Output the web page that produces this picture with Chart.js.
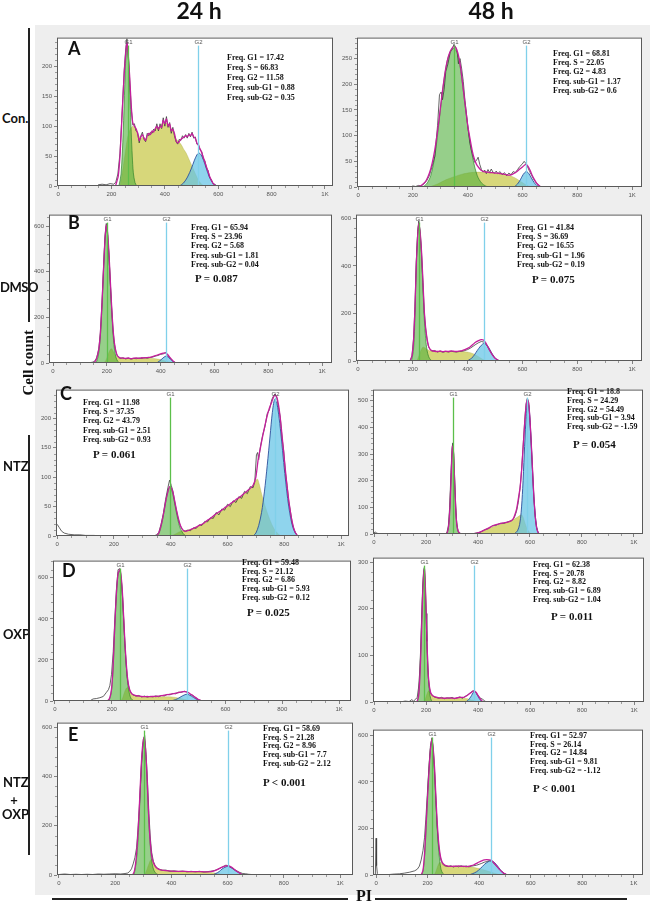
<!DOCTYPE html>
<html><head><meta charset="utf-8">
<script src="https://cdn.jsdelivr.net/npm/chart.js@4.4.1/dist/chart.umd.min.js"></script>
<style>
html,body{margin:0;padding:0;background:#fff;}
#root{position:relative;width:650px;height:904px;overflow:hidden;}
.abs{position:absolute;white-space:nowrap;}
.bg{position:absolute;left:35px;top:25px;width:615px;height:870px;background:#eeeeee;}
.pan{position:absolute;}
.frq{font-family:"Liberation Serif","Times New Roman",serif;font-weight:bold;font-size:8px;color:#111;}
.pv{font-family:"Liberation Serif","Times New Roman",serif;font-weight:bold;font-size:11px;color:#111;}
.lt{font-family:Lato,"Open Sans",sans-serif;font-weight:bold;font-size:18px;color:#111;}
.hd{font-family:Lato,"Open Sans",sans-serif;font-weight:bold;font-size:23px;color:#111;}
.rl{font-family:Lato,"Open Sans",sans-serif;font-weight:bold;font-size:13px;color:#111;}
.tm{font-family:"Liberation Serif","Times New Roman",serif;font-weight:bold;font-size:15px;color:#111;}
.ln{position:absolute;background:#222;}
</style></head><body><div id="root"><div class="bg"></div></div>
<script>
// ---------------- DATA (x = PI channel, y = cell count) ----------------
// Panel order: A24, A48, B24, B48, C24, C48, D24, D48, E24, E48
const PANEL_IDS = ['A24','A48','B24','B48','C24','C48','D24','D48','E24','E48'];
const G1_POS = [261, 350, 200, 223, 396, 303, 229, 193, 303, 217];
const G2_POS = [526, 613, 419, 459, 767, 590, 463, 385, 600, 446];
const FREQ_G1 = ['17.42','68.81','65.94','41.84','11.98','18.8','59.48','62.38','58.69','52.97'];
const FREQ_S = ['66.83','22.05','23.96','36.69','37.35','24.29','21.12','20.78','21.28','26.14'];
const FREQ_G2 = ['11.58','4.83','5.68','16.55','43.79','54.49','6.86','8.82','8.96','14.84'];
const FREQ_SUBG1 = ['0.88','1.37','1.81','1.96','2.51','3.94','5.93','6.89','7.7','9.81'];
const FREQ_SUBG2 = ['0.35','0.6','0.04','0.19','0.93','-1.59','0.12','1.04','2.12','-1.12'];
const P_TEXT = ['', '', 'P = 0.087', 'P = 0.075', 'P = 0.061', 'P = 0.054', 'P = 0.025', 'P = 0.011', 'P < 0.001', 'P < 0.001'];
const PANEL_LETTERS = ['A','','B','','C','','D','','E',''];
const ROW_LABELS = ['Con.','DMSO','NTZ','OXP','NTZ','+','OXP'];
const COL_LABELS = ['24 h','48 h'];
const X_TICK_VALUES = [0,200,400,600,800,1000];
const X_TICK_LABELS = ['0','200','400','600','800','1K'];
const Y_TICKS = [[0,50,100,150,200],[0,50,100,150,200,250],[0,200,400,600],[0,200,400,600],[0,50,100,150,200],[0,100,200,300,400,500],[0,200,400,600],[0,100,200,300],[0,200,400,600],[0,200,400,600]];

const A24_raw = [[150,2],[165,3],[180,2],[195,4],[208,3],[216,6],[224,20],[232,55],[240,125],[248,195],[254,232],[258,246],[262,228],[268,180],[274,130],[280,102],[286,104],[292,92],[298,90],[304,72],[310,84],[316,90],[322,78],[328,74],[334,88],[340,84],[346,90],[352,88],[358,95],[364,92],[370,104],[376,92],[382,104],[388,96],[394,114],[400,100],[406,116],[412,98],[418,106],[424,88],[430,98],[436,84],[442,74],[448,70],[454,78],[460,76],[466,84],[472,80],[478,86],[484,80],[490,88],[496,82],[502,90],[508,80],[514,82],[520,70],[526,70],[532,60],[538,58],[544,46],[550,42],[556,30],[562,26],[568,14],[574,11],[580,4],[586,3],[594,0]];
const A24_fit = [[215,0],[225,15],[232,50],[240,120],[248,190],[254,225],[258,240],[262,225],[268,185],[274,135],[280,105],[286,100],[292,96],[298,88],[304,76],[310,82],[316,86],[322,80],[328,76],[334,84],[340,88],[346,86],[352,92],[358,90],[364,96],[370,100],[376,95],[382,100],[388,98],[394,110],[400,104],[406,112],[412,100],[418,104],[424,92],[430,95],[436,88],[442,76],[448,72],[454,74],[460,78],[466,80],[472,82],[478,84],[484,82],[490,86],[496,84],[502,88],[508,82],[514,80],[520,72],[526,68],[532,62],[538,56],[544,48],[550,40],[556,32],[562,24],[568,16],[574,10],[580,5],[586,2],[592,0]];
const A24_g1 = [[228,0],[236,20],[244,90],[250,170],[254,215],[258,235],[262,222],[266,190],[270,140],[274,90],[278,50],[282,22],[288,6],[295,0]];
const A24_s = [[232,0],[240,20],[250,50],[260,80],[270,95],[280,100],[290,96],[300,86],[310,80],[320,82],[330,78],[340,86],[350,90],[360,92],[370,98],[380,98],[390,104],[400,106],[410,104],[420,98],[430,92],[440,80],[450,75],[460,70],[470,62],[480,55],[490,45],[500,35],[510,25],[520,15],[530,7],[540,2],[548,0]];
const A24_g2 = [[455,0],[470,5],[485,15],[500,30],[510,42],[520,52],[528,55],[536,52],[545,43],[555,30],[565,17],[575,8],[585,3],[595,0]];

const A48_raw = [[190,0],[200,2],[210,1],[220,3],[230,2],[240,6],[250,12],[260,22],[270,40],[280,60],[290,120],[297,180],[303,185],[308,170],[314,190],[320,225],[328,240],[336,262],[344,270],[350,278],[356,272],[362,262],[366,240],[372,250],[378,230],[384,205],[390,168],[396,140],[402,110],[408,85],[414,70],[420,58],[426,48],[432,52],[438,58],[444,44],[450,34],[456,29],[462,33],[468,26],[474,34],[480,28],[486,35],[492,29],[498,27],[504,31],[510,26],[518,30],[526,24],[534,28],[542,22],[550,27],[558,24],[566,30],[574,28],[582,34],[590,40],[598,44],[606,50],[612,46],[618,40],[626,30],[634,22],[642,14],[650,8],[658,4],[666,1],[675,0]];
const A48_fit = [[215,0],[230,3],[245,10],[255,20],[265,35],[275,58],[285,90],[295,130],[305,175],[315,215],[325,245],[335,263],[345,272],[352,274],[360,268],[368,252],[376,225],[384,190],[392,155],[400,120],[408,95],[416,72],[424,55],[432,44],[440,38],[450,32],[460,30],[470,29],[480,28],[490,28],[500,27],[510,27],[520,26],[530,25],[540,24],[550,23],[560,24],[570,27],[580,30],[590,35],[600,39],[608,43],[613,44],[620,40],[628,32],[636,22],[644,14],[652,7],[660,3],[668,0]];
const A48_g1 = [[235,0],[250,6],[265,22],[280,60],[295,125],[310,195],[325,245],[338,265],[350,270],[362,260],[375,225],[390,160],[405,100],[420,52],[435,22],[450,8],[465,2],[475,0]];
const A48_s = [[260,0],[290,6],[320,14],[350,20],[380,25],[410,28],[440,29],[470,28],[500,27],[530,25],[555,22],[575,17],[595,10],[610,5],[625,1],[635,0]];
const A48_g2 = [[570,0],[582,6],[592,14],[602,24],[613,30],[622,27],[632,18],[642,9],[652,3],[662,0]];

const B24_raw = [[130,0],[140,2],[148,4],[155,8],[162,22],[170,62],[176,135],[182,265],[188,425],[193,548],[198,612],[203,560],[208,470],[213,350],[218,240],[223,145],[228,85],[233,52],[238,33],[244,25],[250,20],[260,23],[270,18],[280,21],[290,17],[300,20],[310,19],[320,22],[330,20],[340,24],[350,21],[360,24],[370,26],[380,30],[390,33],[400,38],[410,40],[418,46],[425,36],[432,26],[440,15],[447,7],[454,2],[462,0]];
const B24_fit = [[145,0],[155,5],[162,20],[170,60],[176,130],[182,260],[188,420],[193,540],[198,605],[203,570],[208,480],[213,360],[218,245],[223,150],[228,90],[233,55],[238,35],[244,26],[250,22],[260,21],[270,20],[280,22],[290,19],[300,21],[310,22],[320,20],[330,23],[340,22],[350,24],[360,25],[370,28],[380,32],[390,36],[400,40],[410,43],[418,44],[425,38],[432,28],[440,17],[447,8],[454,2],[460,0]];
const B24_g1 = [[160,0],[168,30],[175,100],[182,250],[188,420],[193,550],[198,600],[203,560],[208,470],[213,350],[218,230],[223,130],[228,65],[234,25],[240,8],[248,0]];
const B24_s = [[188,0],[196,10],[204,35],[212,58],[218,62],[224,50],[230,36],[238,26],[248,21],[270,20],[300,20],[330,21],[360,21],[380,19],[395,16],[410,11],[425,6],[438,2],[448,0]];
const B24_g2 = [[385,0],[395,8],[405,18],[413,26],[420,30],[428,26],[436,17],[444,9],[452,3],[460,0]];

const B48_raw = [[0,3],[10,1],[20,0],[190,0],[197,22],[203,95],[208,230],[213,420],[218,545],[222,590],[227,545],[232,455],[237,330],[242,205],[247,135],[252,90],[257,62],[263,48],[270,42],[280,44],[290,38],[300,41],[310,37],[320,40],[330,38],[340,41],[350,39],[360,38],[370,40],[380,41],[390,44],[400,48],[410,54],[420,62],[430,70],[440,77],[450,82],[458,80],[465,74],[472,62],[480,46],[488,30],[496,17],[504,8],[512,3],[520,0]];
const B48_fit = [[190,0],[197,20],[203,90],[208,220],[213,410],[218,530],[222,578],[227,540],[232,460],[237,340],[242,210],[247,140],[252,95],[257,65],[263,50],[270,44],[280,41],[290,40],[300,42],[310,39],[320,41],[330,40],[340,42],[350,41],[360,40],[370,42],[380,44],[390,48],[400,53],[410,60],[420,70],[430,80],[440,86],[450,90],[458,88],[465,78],[472,64],[480,46],[488,30],[496,17],[504,8],[512,3],[520,0]];
const B48_g1 = [[195,0],[202,40],[207,150],[212,380],[217,520],[222,575],[227,530],[232,440],[237,310],[242,180],[247,95],[252,45],[258,18],[265,5],[272,0]];
const B48_s = [[215,0],[222,20],[230,45],[237,58],[245,55],[253,48],[262,43],[280,41],[320,40],[360,40],[390,39],[410,35],[425,28],[440,18],[452,9],[462,3],[470,0]];
const B48_g2 = [[398,0],[410,8],[420,18],[430,35],[440,52],[450,66],[459,74],[468,70],[476,58],[484,42],[492,26],[500,13],[508,5],[516,0]];

const C24_raw = [[0,20],[8,14],[16,8],[25,5],[40,3],[60,2],[80,2],[100,1],[130,1],[160,0],[340,0],[350,2],[358,6],[366,20],[374,38],[382,62],[390,82],[396,95],[402,86],[408,76],[414,58],[420,44],[426,30],[432,20],[438,13],[444,9],[452,8],[460,10],[470,9],[480,14],[490,13],[500,19],[510,18],[520,25],[530,24],[540,31],[550,30],[560,40],[570,36],[580,46],[590,44],[600,54],[610,50],[620,60],[630,57],[640,67],[650,64],[660,76],[670,72],[680,84],[690,82],[696,92],[702,138],[706,142],[710,130],[716,152],[724,172],[732,186],[740,208],[748,215],[756,232],[762,238],[768,242],[774,234],[780,218],[786,202],[792,168],[798,145],[804,108],[810,86],[816,58],[822,41],[828,22],[834,12],[840,5],[846,1],[852,0]];
const C24_fit = [[350,0],[358,5],[366,18],[374,36],[382,58],[390,75],[396,84],[402,82],[408,74],[414,60],[420,45],[426,32],[432,21],[438,14],[444,10],[452,8],[460,9],[470,11],[480,13],[490,15],[500,18],[510,20],[520,23],[530,27],[540,30],[550,34],[560,38],[570,41],[580,44],[590,48],[600,51],[610,55],[620,58],[630,62],[640,65],[650,69],[660,73],[670,77],[680,81],[690,86],[700,100],[708,130],[716,150],[724,170],[732,188],[740,205],[748,218],[756,228],[762,236],[768,240],[774,236],[780,222],[786,200],[792,172],[798,142],[804,112],[810,84],[816,60],[822,40],[828,24],[834,12],[840,5],[846,1],[852,0]];
const C24_g1 = [[352,0],[360,6],[368,20],[376,40],[384,62],[390,76],[396,83],[402,80],[408,70],[414,55],[420,40],[426,26],[432,15],[440,7],[448,2],[455,0]];
const C24_s = [[400,0],[415,3],[430,7],[445,9],[460,10],[480,13],[500,17],[520,22],[540,29],[560,36],[580,43],[600,50],[620,57],[640,64],[660,72],[680,80],[695,90],[705,97],[712,88],[720,72],[730,55],[740,40],[750,27],[760,16],[770,8],[780,3],[790,0]];
const C24_g2 = [[690,0],[700,5],[710,18],[720,40],[730,75],[740,120],[750,170],[758,210],[766,232],[774,225],[782,200],[790,165],[798,125],[806,88],[814,56],[822,32],[830,15],[838,6],[846,1],[852,0]];

const C48_raw = [[0,4],[5,8],[10,3],[20,1],[40,0],[272,0],[280,4],[286,30],[291,100],[296,230],[300,320],[303,342],[306,310],[310,205],[314,105],[318,42],[323,12],[330,3],[340,0],[380,1],[395,4],[410,7],[425,16],[440,20],[455,31],[470,33],[485,40],[500,40],[515,46],[530,50],[540,62],[548,84],[555,118],[562,172],[568,245],[574,335],[580,428],[585,488],[590,510],[595,495],[600,425],[605,335],[610,232],[615,135],[620,66],[625,26],[630,8],[636,1],[642,0]];
const C48_fit = [[275,0],[282,5],[288,40],[293,120],[298,250],[302,330],[306,300],[310,200],[314,100],[318,40],[323,12],[330,3],[340,0],[380,0],[395,3],[410,8],[425,15],[440,22],[455,30],[470,35],[485,39],[500,42],[515,45],[528,50],[536,58],[542,72],[549,95],[555,130],[562,175],[568,240],[574,330],[580,420],[585,480],[590,505],[595,490],[600,430],[605,340],[610,240],[615,140],[620,70],[625,28],[630,8],[636,0]];
const C48_g1 = [[278,0],[285,15],[290,70],[295,180],[299,280],[303,335],[307,290],[311,190],[315,95],[319,35],[324,8],[330,0]];
const C48_s = [[380,0],[400,4],[420,12],[440,20],[460,28],[480,35],[500,40],[520,46],[535,54],[550,62],[562,70],[568,72],[575,60],[582,38],[590,18],[598,6],[606,0]];
const C48_g2 = [[540,0],[552,12],[560,35],[566,80],[572,170],[578,300],[584,420],[590,498],[596,480],[602,400],[608,280],[614,160],[620,75],[626,25],[632,6],[638,0]];

const D24_raw = [[122,0],[134,10],[146,12],[158,16],[170,22],[181,42],[188,55],[193,74],[199,130],[205,240],[210,380],[216,540],[222,640],[229,645],[234,580],[238,500],[242,390],[246,280],[250,190],[254,120],[258,80],[263,52],[269,36],[275,30],[285,24],[295,27],[305,20],[315,24],[325,19],[335,23],[345,20],[355,25],[365,21],[375,27],[385,25],[395,32],[405,30],[415,37],[425,35],[435,43],[445,42],[455,48],[463,44],[470,41],[478,31],[486,27],[494,16],[502,10],[510,4],[518,1],[525,0]];
const D24_fit = [[185,0],[192,12],[199,58],[205,180],[210,356],[216,520],[222,623],[229,640],[234,590],[238,513],[242,400],[246,290],[250,200],[254,130],[258,85],[263,55],[269,38],[275,31],[285,26],[295,24],[305,22],[315,21],[325,22],[335,21],[345,23],[355,22],[365,24],[375,26],[385,28],[395,31],[405,33],[415,35],[425,38],[435,41],[445,44],[455,46],[463,45],[470,40],[478,33],[486,26],[494,18],[502,10],[510,4],[518,0]];
const D24_g1 = [[188,0],[195,20],[201,80],[206,200],[211,370],[216,510],[222,615],[229,635],[234,585],[238,505],[242,395],[246,285],[250,190],[254,115],[258,65],[263,30],[268,12],[274,4],[280,0]];
const D24_s = [[232,0],[238,15],[244,40],[250,60],[255,66],[260,55],[266,40],[274,30],[285,25],[300,22],[330,21],[360,21],[390,21],[410,20],[425,17],[440,13],[455,8],[468,4],[480,1],[488,0]];
const D24_g2 = [[405,0],[418,4],[430,10],[440,18],[450,26],[458,31],[465,33],[472,30],[480,24],[488,17],[496,10],[504,5],[512,2],[520,0]];

const D48_raw = [[60,0],[80,1],[100,0],[120,2],[135,1],[145,5],[152,2],[160,6],[166,10],[171,30],[175,60],[179,110],[183,180],[187,245],[191,285],[194,290],[197,250],[200,190],[203,130],[206,82],[209,50],[213,30],[218,18],[225,13],[235,10],[250,8],[260,10],[270,7],[280,9],[290,8],[300,10],[310,7],[320,9],[330,11],[340,8],[350,12],[360,15],[370,20],[380,24],[388,23],[395,18],[402,12],[410,8],[417,6],[424,3],[432,0]];
const D48_fit = [[165,0],[171,12],[175,40],[179,90],[183,160],[187,230],[191,278],[194,285],[197,255],[200,200],[203,140],[206,90],[209,55],[213,33],[218,20],[225,14],[235,11],[250,9],[270,8],[290,9],[310,8],[330,10],[345,10],[355,13],[365,17],[375,21],[385,24],[392,21],[400,14],[408,7],[415,2],[422,0]];
const D48_g1 = [[167,0],[172,20],[176,60],[180,120],[184,195],[188,255],[193,280],[197,250],[201,180],[205,110],[209,55],[213,22],[218,7],[224,1],[230,0]];
const D48_s = [[192,0],[198,8],[204,18],[210,24],[216,20],[224,14],[235,11],[260,9],[300,8],[340,8],[360,7],[372,5],[385,3],[395,1],[402,0]];
const D48_g2 = [[352,0],[360,3],[368,8],[375,14],[381,20],[386,22],[392,20],[398,14],[404,8],[410,3],[416,0]];

const E24_raw = [[0,2],[20,4],[40,2],[60,3],[80,2],[100,3],[120,2],[140,4],[160,3],[180,4],[200,5],[220,4],[235,6],[245,8],[252,15],[258,25],[264,45],[270,70],[276,110],[282,200],[288,320],[294,460],[300,550],[305,565],[310,490],[315,380],[320,250],[325,150],[330,90],[336,55],[342,38],[350,27],[358,23],[368,19],[380,20],[395,15],[410,17],[425,14],[440,16],[455,13],[470,15],[485,13],[500,15],[515,12],[530,14],[545,16],[558,20],[570,26],[582,33],[594,40],[604,36],[614,30],[624,22],[634,16],[644,10],[654,6],[664,5],[674,3],[684,2],[694,0]];
const E24_fit = [[262,0],[268,15],[274,60],[280,150],[286,280],[292,430],[298,530],[303,558],[308,510],[313,410],[318,270],[323,160],[328,95],[333,60],[340,40],[348,28],[356,23],[366,20],[380,18],[400,16],[420,15],[440,15],[460,14],[480,14],[500,14],[520,13],[540,14],[555,18],[565,23],[575,29],[585,34],[595,37],[602,38],[610,34],[618,28],[626,21],[634,14],[642,8],[650,3],[656,0]];
const E24_g1 = [[266,0],[272,30],[278,90],[284,200],[290,360],[296,490],[303,552],[309,480],[314,360],[319,230],[324,130],[329,65],[335,28],[342,10],[350,3],[358,0]];
const E24_s = [[305,0],[312,20],[320,45],[327,62],[333,58],[340,42],[350,28],[362,21],[380,18],[420,15],[460,14],[500,13],[530,11],[555,8],[575,4],[590,1],[598,0]];
const E24_g2 = [[545,0],[558,6],[570,14],[580,24],[590,31],[600,35],[610,31],[620,24],[630,16],[640,9],[650,3],[658,0]];

const E48_raw = [[-3,0],[0,158],[2,40],[5,6],[10,0],[40,1],[50,2],[70,4],[90,5],[110,8],[130,12],[150,18],[160,25],[168,38],[175,65],[182,105],[188,160],[193,240],[199,350],[205,460],[211,555],[217,590],[222,530],[227,440],[232,320],[237,210],[242,135],[247,90],[252,62],[258,48],[265,40],[272,38],[280,36],[290,40],[300,34],[310,39],[320,35],[330,40],[340,36],[350,39],[360,35],[370,38],[380,40],[390,42],[400,46],[410,50],[420,55],[430,58],[440,62],[448,60],[456,52],[464,42],[472,32],[480,22],[488,14],[496,7],[504,3],[512,1],[520,0]];
const E48_fit = [[175,0],[182,20],[188,90],[193,190],[199,320],[205,440],[211,540],[217,585],[222,540],[227,460],[232,340],[237,230],[242,150],[247,100],[252,70],[258,52],[265,44],[272,40],[280,38],[290,37],[300,38],[310,37],[320,39],[330,37],[340,38],[350,36],[360,38],[370,40],[380,44],[390,50],[400,56],[410,61],[420,65],[430,66],[440,65],[448,62],[456,54],[464,44],[472,33],[480,23],[488,14],[496,7],[504,3],[512,0]];
const E48_g1 = [[178,0],[184,30],[190,110],[196,250],[202,400],[208,510],[214,570],[217,580],[222,540],[227,450],[232,330],[237,210],[242,120],[247,60],[252,25],[258,8],[265,2],[272,0]];
const E48_s = [[225,0],[232,15],[239,38],[245,52],[250,55],[256,48],[264,42],[280,38],[320,37],[360,35],[390,30],[410,25],[430,18],[450,11],[468,5],[482,1],[490,0]];
const E48_g2 = [[360,0],[375,6],[390,14],[405,28],[420,45],[435,57],[446,61],[456,57],[466,46],[476,32],[486,18],[496,8],[506,2],[514,0]];

const SERIES = {
  A24:[A24_raw,A24_fit,A24_g1,A24_s,A24_g2], A48:[A48_raw,A48_fit,A48_g1,A48_s,A48_g2],
  B24:[B24_raw,B24_fit,B24_g1,B24_s,B24_g2], B48:[B48_raw,B48_fit,B48_g1,B48_s,B48_g2],
  C24:[C24_raw,C24_fit,C24_g1,C24_s,C24_g2], C48:[C48_raw,C48_fit,C48_g1,C48_s,C48_g2],
  D24:[D24_raw,D24_fit,D24_g1,D24_s,D24_g2], D48:[D48_raw,D48_fit,D48_g1,D48_s,D48_g2],
  E24:[E24_raw,E24_fit,E24_g1,E24_s,E24_g2], E48:[E48_raw,E48_fit,E48_g1,E48_s,E48_g2]
};
// axis ranges per panel: [xMin, xMax, yMax, yMinorStep]
const AXES = [[-4,1030,248,10],[-4,1036,291,10],[-15,1037,651,40],[-7,1036,616,40],[-4,1028,249,10],[-4,1035,542,20],[-7,1042,684,40],[-4,1038,310,20],[-7,1046,618,40],[-12,1036,625,40]];

// ---------------- LAYOUT ----------------
// plot area boxes in page px: [left, top, right, bottom]
const BOX = [[57,32,333,186],[357,32,642,187],[49,209,332,363],[356,209,642,361],[56,384,349,536],[373,384,643,534],[53,555,351,701],[373,552,644,702],[57,717,353,875],[373,724,643,875]];
// text: [freqX, firstLineCenterY, lineGap, pX, pCenterY, letterX, letterCenterY]
const TXT = [[227,58,10,0,0,68,48],[553,54,9.2,0,0,0,0],[191,228,9.2,195,278,68,222],[517,228,9.2,532,279,0,0],[83,403,9.2,93,454,60,393],[567,392,8.8,573,444,0,0],[242,563,8.7,247,612,62,570],[533,565,8.7,551,616,0,0],[263,729,8.7,263,782,68,734],[530,736,8.7,533,788,0,0]];

const root = document.getElementById('root');
function addText(cls, str, x, yc, fs, center) {
  const d = document.createElement('div');
  d.className = 'abs ' + cls;
  d.textContent = str;
  d.style.left = x + 'px';
  d.style.top = (yc - fs / 2) + 'px';
  d.style.lineHeight = fs + 'px';
  if (center) d.style.transform = 'translateX(-50%)';
  root.appendChild(d);
  return d;
}
function addLine(x, y, w, h) {
  const d = document.createElement('div');
  d.className = 'ln';
  d.style.left = x + 'px'; d.style.top = y + 'px'; d.style.width = w + 'px'; d.style.height = h + 'px';
  root.appendChild(d);
}

const YW = 26, XH = 14;
const panelPlugin = {
  id: 'panel',
  beforeDraw(chart) {
    const {ctx, chartArea: a} = chart;
    ctx.save(); ctx.fillStyle = '#ffffff';
    ctx.fillRect(a.left, a.top, a.right - a.left, a.bottom - a.top);
    ctx.restore();
  },
  afterDatasetsDraw(chart, args, opts) {
    const {ctx, chartArea: a, scales: {x}} = chart;
    [[opts.g1, '#5cbf4a', 'G1'], [opts.g2, '#80d0ea', 'G2']].forEach(([v, c, l]) => {
      const px = Math.round(x.getPixelForValue(v)) + 0.5;
      ctx.save();
      ctx.strokeStyle = c; ctx.lineWidth = 1.3;
      ctx.beginPath(); ctx.moveTo(px, a.top + 8); ctx.lineTo(px, a.bottom); ctx.stroke();
      ctx.fillStyle = '#555'; ctx.font = '6px "Liberation Sans", Arial';
      ctx.textAlign = 'center'; ctx.textBaseline = 'middle';
      ctx.fillText(l, px, a.top + 4.5);
      ctx.restore();
    });
  },
  afterDraw(chart, args, opts) {
    const {ctx, chartArea: a, scales: {x, y}} = chart;
    ctx.save();
    ctx.strokeStyle = '#5a5a5a'; ctx.lineWidth = 1;
    ctx.strokeRect(a.left + 0.5, a.top + 0.5, a.right - a.left - 1, a.bottom - a.top - 1);
    ctx.strokeStyle = '#777'; ctx.lineWidth = 0.7;
    ctx.beginPath();
    for (let v = 50; v < x.max; v += 50) {
      if (v % 200 === 0) continue;
      const px = Math.round(x.getPixelForValue(v)) + 0.5;
      ctx.moveTo(px, a.bottom); ctx.lineTo(px, a.bottom + 2);
    }
    const ms = opts.minor;
    for (let v = ms; v < y.max; v += ms) {
      if (opts.yt.indexOf(v) >= 0) continue;
      const py = Math.round(y.getPixelForValue(v)) + 0.5;
      ctx.moveTo(a.left, py); ctx.lineTo(a.left - 2, py);
    }
    ctx.stroke();
    ctx.restore();
  }
};

PANEL_IDS.forEach((id, i) => {
  const [L, T, R, B] = BOX[i];
  const [xmin, xmax, ymax, minor] = AXES[i];
  const yt = Y_TICKS[i];
  const W = R - L + YW, H = B - T + XH;
  const wrap = document.createElement('div');
  wrap.className = 'pan';
  wrap.style.left = (L - YW) + 'px'; wrap.style.top = T + 'px';
  wrap.style.width = W + 'px'; wrap.style.height = H + 'px';
  const cv = document.createElement('canvas');
  cv.width = W; cv.height = H; cv.style.width = W + 'px'; cv.style.height = H + 'px';
  wrap.appendChild(cv); root.appendChild(wrap);
  const [raw, fit, g1, s, g2] = SERIES[id];
  const tickFont = {family: '"Liberation Sans", Arial', size: 6};
  new Chart(cv, {
    type: 'line',
    data: { datasets: [
      {data: fit, borderColor: '#c41f9c', borderWidth: 1.3, pointRadius: 0, tension: 0.15, fill: false, order: 0},
      {data: raw, borderColor: '#3c3c3c', borderWidth: 0.8, pointRadius: 0, tension: 0, fill: false, order: 1},
      {data: g2, borderColor: '#2c4f9c', borderWidth: 0.9, backgroundColor: 'rgba(100,195,230,0.72)', pointRadius: 0, tension: 0.3, fill: 'origin', order: 2},
      {data: g1, borderColor: 'rgba(45,130,40,0.85)', borderWidth: 0.8, backgroundColor: 'rgba(80,175,60,0.6)', pointRadius: 0, tension: 0.3, fill: 'origin', order: 3},
      {data: s, borderColor: 'rgba(165,165,60,0.6)', borderWidth: 0.5, backgroundColor: 'rgba(200,200,70,0.72)', pointRadius: 0, tension: 0.3, fill: 'origin', order: 4}
    ]},
    options: {
      responsive: false, animation: false, events: [],
      layout: {padding: 0, autoPadding: false},
      plugins: {legend: {display: false}, tooltip: {enabled: false}, panel: {g1: G1_POS[i], g2: G2_POS[i], minor: minor, yt: yt}},
      scales: {
        x: {type: 'linear', min: xmin, max: xmax,
            afterFit: sc => { sc.height = XH; },
            afterBuildTicks: sc => { sc.ticks = X_TICK_VALUES.map(v => ({value: v})); },
            border: {display: false},
            grid: {drawOnChartArea: false, drawTicks: true, tickLength: 3, color: '#666', lineWidth: 0.8},
            ticks: {autoSkip: false, maxRotation: 0, padding: 2, color: '#555', font: tickFont,
                    callback: v => { const k = X_TICK_VALUES.indexOf(v); return k >= 0 ? X_TICK_LABELS[k] : ''; }}},
        y: {type: 'linear', min: 0, max: ymax,
            afterFit: sc => { sc.width = YW; },
            afterBuildTicks: sc => { sc.ticks = yt.map(v => ({value: v})); },
            border: {display: false},
            grid: {drawOnChartArea: false, drawTicks: true, tickLength: 3, color: '#666', lineWidth: 0.8},
            ticks: {autoSkip: false, padding: 2, color: '#555', font: tickFont, callback: v => String(v)}}
      }
    },
    plugins: [panelPlugin]
  });
  const t = TXT[i];
  const lines = ['Freq. G1 = ' + FREQ_G1[i], 'Freq. S = ' + FREQ_S[i], 'Freq. G2 = ' + FREQ_G2[i], 'Freq. sub-G1 = ' + FREQ_SUBG1[i], 'Freq. sub-G2 = ' + FREQ_SUBG2[i]];
  lines.forEach((ln, k) => addText('frq', ln, t[0], t[1] + k * t[2], 8));
  if (P_TEXT[i]) addText('pv', P_TEXT[i], t[3], t[4], 11);
  if (PANEL_LETTERS[i]) addText('lt', PANEL_LETTERS[i], t[5], t[6], 18);
});

// column headers
addText('hd', COL_LABELS[0], 199, 10, 23, true);
addText('hd', COL_LABELS[1], 491, 10, 23, true);
// row labels
addText('rl', ROW_LABELS[0], 2, 118, 14, false);
addText('rl', ROW_LABELS[1], 0, 287, 14, false).style.letterSpacing = '-0.4px';
addText('rl', ROW_LABELS[2], 3, 466, 14, false);
addText('rl', ROW_LABELS[3], 3, 634, 14, false);
addText('rl', ROW_LABELS[4], 3, 782, 14, false);
addText('rl', ROW_LABELS[5], 14, 800, 14, true);
addText('rl', ROW_LABELS[6], 2, 814, 14, false);
// y axis title
const cc = addText('tm', 'Cell count', 28, 367, 15, false);
cc.style.left = '0px'; cc.style.width = '56px'; cc.style.textAlign = 'center';
cc.style.transformOrigin = '28px 7.5px'; cc.style.transform = 'rotate(-90deg)';
// x axis title
addText('tm', 'PI', 364, 896, 16, true).style.fontSize = '16px';
// bracket lines
addLine(28, 28, 1.5, 294);
addLine(28, 435, 1.5, 420);
addLine(52, 898, 296, 1.5);
addLine(375, 898, 252, 1.5);
</script></body></html>
